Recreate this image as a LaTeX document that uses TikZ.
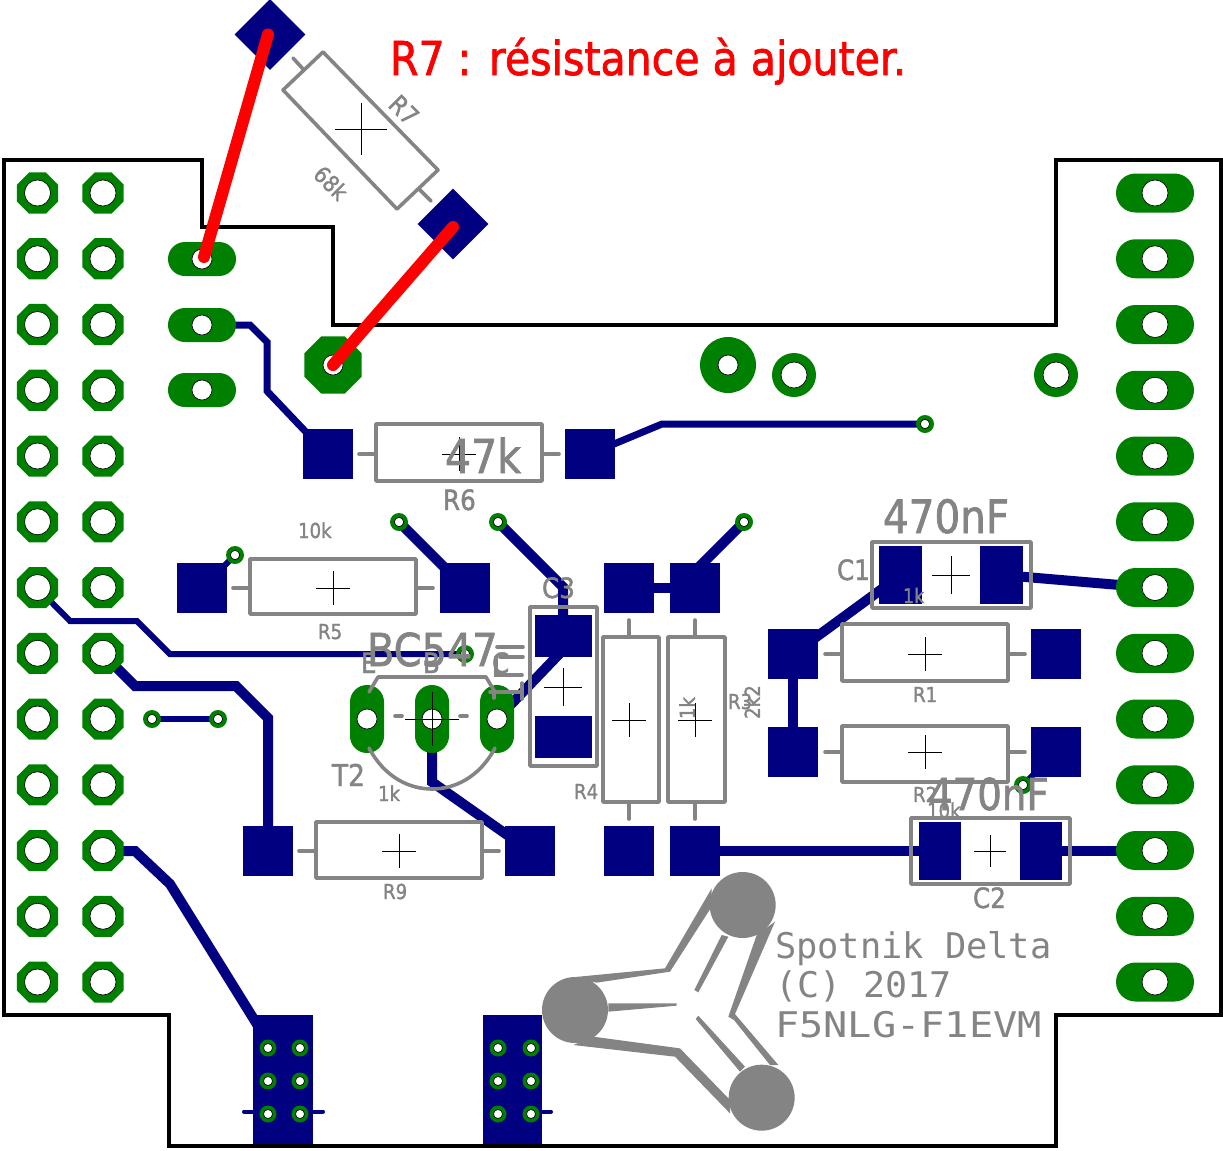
\documentclass[tikz,border=0pt]{standalone}
\usepackage{fontspec}
\setmainfont[FakeStretch=0.88,FakeBold=1.5]{DejaVu Sans}
\newfontfamily\monof{DejaVu Sans Mono}
\usetikzlibrary{shapes.geometric}
\definecolor{cu}{HTML}{000080}
\definecolor{padg}{HTML}{008000}
\definecolor{silk}{HTML}{848484}
\newcommand\fsz[1]{\fontsize{#1}{#1}\selectfont}
\tikzset{
 trace/.style={draw=cu,line width=#1,line join=miter,line cap=round},
 trace/.default=7.5pt,
 sqpad/.style={fill=cu,minimum size=37.5pt,inner sep=0,outer sep=0},
 diapad/.style={fill=cu,minimum size=37.5pt,inner sep=0,outer sep=0,rotate=45},
 oct/.style={regular polygon,regular polygon sides=8,fill=padg,minimum size=#1,inner sep=0,outer sep=0},
 rnd/.style={circle,fill=padg,minimum size=#1,inner sep=0,outer sep=0},
 hole/.style={circle,fill=white,draw=black,line width=.5pt,minimum size=#1,inner sep=0,outer sep=0},
 oblL/.style={fill=padg,minimum width=51pt,minimum height=25.5pt,rounded corners=12.7pt,inner sep=0,outer sep=0},
 oblR/.style={fill=padg,minimum width=58.5pt,minimum height=29.25pt,rounded corners=14.6pt,inner sep=0,outer sep=0},
 oblV/.style={fill=padg,minimum width=25.5pt,minimum height=51pt,rounded corners=12.7pt,inner sep=0,outer sep=0},
 silkline/.style={draw=silk,line width=2.7pt,line join=round},
 lead/.style={draw=silk,line width=2.7pt,line cap=round},
 crossl/.style={draw=black,line width=.6pt},
 txt/.style={text=silk,inner sep=0,outer sep=0,anchor=base west},
 txtc/.style={text=silk,inner sep=0,outer sep=0,anchor=center},
 logo/.style={fill=silk,draw=none}
}
\newcommand\crossat[3]{\draw[crossl] (#1-#3,#2) -- (#1+#3,#2) (#1,#2-#3) -- (#1,#2+#3);}
\newcommand\lab[4]{\node[txt,font=\fsz{#4}] at (#1,#2) {#3};}
\begin{document}
\begin{tikzpicture}[x=0.75pt,y=-0.75pt]
\useasboundingbox (0,0) rectangle (1223,1150);
% named connection points
\coordinate (R6a) at (328,454); \coordinate (R6b) at (590,454);
\coordinate (R5a) at (202,588); \coordinate (R5b) at (465,588);
\coordinate (R4a) at (629,588); \coordinate (R3a) at (695,588);
\coordinate (R4b) at (629,851); \coordinate (R3b) at (695,851);
\coordinate (R1a) at (793,654); \coordinate (R1b) at (1056,654);
\coordinate (R2a) at (793,752); \coordinate (R2b) at (1056,752);
\coordinate (R9a) at (268,851); \coordinate (R9b) at (530,851);
\coordinate (O2) at (202,325);
\coordinate (V1) at (925,424); \coordinate (V2) at (235,555);
\coordinate (V3) at (399,522); \coordinate (V4) at (498,522);
\coordinate (V5) at (744,522); \coordinate (V6) at (152,719);
\coordinate (V7) at (218,719); \coordinate (V8) at (1023,785);
\coordinate (V9) at (465,654);
\coordinate (L7) at (37.5,588); \coordinate (L8) at (103,654);
\coordinate (L11) at (103,851);
\coordinate (RR7) at (1155,588); \coordinate (RR11) at (1155,851);
\coordinate (TB) at (432,719); \coordinate (TC) at (497,719);
% copper
\draw[trace=5.25pt] (O2) -- (250,325) -- (267,342) -- (267,391) -- (305,431) -- (R6a);
\draw[trace=5.25pt] (R6b) -- (662,424) -- (V1);
\draw[trace=4.5pt] (L7) -- (70,621) -- (137,621) -- (170,654) -- (V9);
\draw[trace] (L8) -- (135,686) -- (236,686) -- (268,718) -- (R9a);
\draw[trace=4.5pt] (V6) -- (V7);
\draw[trace] (L11) -- (135,851) -- (170,884) -- (268,1042);
\draw[trace] (TB) -- (432,782) -- (R9b);
\draw[trace=4.5pt] (V2) -- (R5a);
\draw[trace] (V3) -- (R5b);
\draw[trace] (V4) -- (563,587) -- (563,650) -- (TC);
\draw[trace] (R4a) -- (R3a);
\draw[trace] (V5) -- (695,571) -- (R3a);
\draw[trace] (R1a) -- (R2a);
\draw[trace] (R1a) -- (901,575);
\draw[trace] (1002,575) -- (RR7);
\draw[trace] (R3b) -- (940,851);
\draw[trace] (1040,851) -- (RR11);
\draw[trace=4.5pt] (V8) -- (R2b);
\draw[trace=3pt] (244,1111.5) -- (323,1111.5);
\draw[trace=3pt] (542,1111.5) -- (551,1111.5);
% square pads
\foreach \p in {R6a,R6b,R5a,R5b,R4a,R3a,R4b,R3b,R1a,R1b,R2a,R2b,R9a,R9b}
  \node[sqpad] (pad\p) at (\p) {};
\node[diapad] (dia1) at (270,34.5) {};
\node[diapad] (dia2) at (453,224) {};
% SMD pads
\fill[cu] (879,546) rectangle (922,604);
\fill[cu] (980,546) rectangle (1023,604);
\fill[cu] (919,822) rectangle (961,880);
\fill[cu] (1020,822) rectangle (1062,880);
\fill[cu] (535,615) rectangle (592,657);
\fill[cu] (535,716) rectangle (592,758);
\fill[cu] (253,1015) rectangle (313,1147);
\fill[cu] (483,1015) rectangle (542,1147);
% board outline
\draw[black,line width=3pt,line join=miter] (4,160) -- (202,160) -- (202,227) -- (333,227) -- (333,325) -- (1056,325) -- (1056,160) -- (1221,160) -- (1221,1015) -- (1056,1015) -- (1056,1146) -- (169,1146) -- (169,1015) -- (4,1015) -- cycle;
% connector rows
\foreach \i in {0,...,12}{
  \pgfmathsetmacro\yy{193+65.75*\i}
  \node[oct=33.3pt] (la\i) at (37.5,\yy) {};
  \node[oct=33.3pt] (lb\i) at (103,\yy) {};
  \node[oblR] (rr\i) at (1155,\yy) {};
  \node[hole=19.5pt] at (37.5,\yy) {};
  \node[hole=19.5pt] at (103,\yy) {};
  \node[hole=19.5pt] at (1155,\yy) {};
}
\foreach \yy in {259,325,390}{
  \node[oblL] at (202,\yy) {};
  \node[hole=15pt] at (202,\yy) {};
}
\node[oct=46.3pt] (big) at (333,365) {}; \node[hole=15pt] at (333,365) {};
\node[rnd=42pt] at (728,365) {}; \node[hole=15pt] at (728,365) {};
\node[rnd=33pt] at (794,375) {}; \node[hole=19.5pt] at (794,375) {};
\node[rnd=33pt] at (1056,375) {}; \node[hole=19.5pt] at (1056,375) {};
\foreach \p in {V1,V2,V3,V4,V5,V6,V7,V8,V9}{
  \node[rnd=13.5pt] at (\p) {};
  \node[hole=7pt] at (\p) {};
}
\foreach \xx in {268,300,498,531} \foreach \yy in {1048,1081,1114}{
  \node[rnd=12.75pt] at (\xx,\yy) {};
  \node[hole=6.75pt] at (\xx,\yy) {};
}
\foreach \xx in {367,432,497}{
  \node[oblV] at (\xx,719) {};
  \node[hole=15pt] at (\xx,719) {};
}
% resistor bodies
\draw[silkline] (376,424) rectangle (542,481);
\draw[lead] (359,454) -- (376,454) (542,454) -- (559,454);
\draw[silkline] (250,559) rectangle (416,614);
\draw[lead] (233,588) -- (250,588) (416,588) -- (433,588);
\draw[silkline] (316,822) rectangle (482,878);
\draw[lead] (299,851) -- (316,851) (482,851) -- (499,851);
\draw[silkline] (842,624) rectangle (1008,681);
\draw[lead] (825,654) -- (842,654) (1008,654) -- (1025,654);
\draw[silkline] (842,726) rectangle (1008,782);
\draw[lead] (825,752) -- (842,752) (1008,752) -- (1025,752);
\draw[silkline] (603,637) rectangle (659,802);
\draw[lead] (629,620) -- (629,637) (629,802) -- (629,819);
\draw[silkline] (668,637) rectangle (725,802);
\draw[lead] (695,620) -- (695,637) (695,802) -- (695,819);
\draw[silkline] (323,52) -- (438,170) -- (397,209) -- (283,90) -- cycle;
\draw[lead] (293,58) -- (303,69) (419,189) -- (431,201);
% capacitors
\draw[silkline] (872,542) rectangle (1031,608);
\draw[silkline] (911,818) rectangle (1070,884);
\draw[silkline] (530,607) rectangle (597,766);
% capacitor-like silk by T2
\draw[lead] (497,647) -- (523,647) (500,657) -- (523,657) (496,657) -- (496,675) -- (522,675);
\draw[lead] (490,692) -- (522,692) (522,683) -- (522,699) (494,692) -- (494,698);
% T2 outline
\draw[silkline,line cap=round] (369,692) -- (378,677) -- (486,677) -- (495,692);
\draw[silkline,line cap=round] (369,748) .. controls (385,778) and (410,789) .. (432,789) .. controls (454,789) and (479,778) .. (495,748);
\draw[lead] (395,716) -- (402,716) (460,716) -- (467,716);
% crosses
\crossat{459}{454}{17}
\crossat{333}{588}{17}
\crossat{399}{851}{17}
\crossat{925}{654}{17}
\crossat{925}{752}{17}
\crossat{629}{720}{17}
\crossat{695}{720}{17}
\crossat{361}{129}{26}
\crossat{951}{575}{19}
\crossat{990}{851}{16}
\crossat{563}{687}{19}
\crossat{432}{719}{27}
% logo
\begin{scope}[shift={(530,860)},x=0.25pt,y=-0.25pt]
\fill[logo] (638,135) circle (99);
\fill[logo] (135,450) circle (99);
\fill[logo] (695,713) circle (99);
\fill[logo] (125,352) -- (405,325) -- (545,85) -- (545,140) -- (420,335) -- (200,368) -- cycle;
\fill[logo] (735,185) -- (615,462) -- (745,615) -- (720,615) -- (612,480) -- (595,470) -- (680,225) -- cycle;
\fill[logo] (600,760) -- (435,590) -- (130,555) -- (190,530) -- (450,565) -- (600,720) -- cycle;
\fill[logo] (235,430) -- (440,430) -- (440,437) -- (235,455) -- cycle;
\fill[logo] (575,225) -- (595,230) -- (505,397) -- (493,390) -- cycle;
\fill[logo] (505,467) -- (645,620) -- (630,635) -- (497,477) -- cycle;
\end{scope}
\node[txt,font=\monof\fsz{26.5pt}] (l1) at (775,958) {Spotnik Delta};
\node[txt,font=\monof\fsz{26.5pt}] (l2) at (775,997) {\scalebox{1.04}[1]{(C) 2017}};
\node[txt,font=\monof\fsz{26.5pt}] (l3) at (775,1037) {\scalebox{1.14}[1]{F5NLG-F1EVM}};
% labels
\node[txt,text=red,font=\fsz{35pt}] (title) at (390,75) {R7 : résistance à ajouter.};
\lab{445}{473}{47k}{35pt}
\lab{443}{510}{R6}{21pt}
\lab{883}{533}{470nF}{34.5pt}
\lab{837}{580}{C1}{21pt}
\lab{903}{603}{1k}{15pt}
\lab{913}{702}{R1}{15.5pt}
\lab{913}{802}{R2}{15.5pt}
\lab{927}{818}{10k}{15.5pt}
\lab{928}{810}{470nF}{33pt}
\lab{973}{908}{C2}{21pt}
\lab{542}{598}{C3}{21pt}
\lab{332}{786}{T2}{22.5pt}
\lab{574}{799}{R4}{15.5pt}
\lab{378}{801}{1k}{15.5pt}
\lab{383}{899}{R9}{15.5pt}
\lab{318}{639}{R5}{15.5pt}
\lab{298}{538}{10k}{15.5pt}
\lab{361}{673}{E}{21pt}
\lab{423}{673}{B}{21pt}
\lab{492}{673}{C}{21pt}
\lab{367}{666}{BC547}{34pt}
\lab{728}{709}{R3}{15.5pt}
\node[txtc,font=\fsz{15.5pt},rotate=90] at (752,702) {2k2};
\node[txtc,font=\fsz{15.5pt},rotate=90] at (687,708) {1k};
\node[txtc,font=\fsz{19pt},rotate=-45] at (404,110) {R7};
\node[txtc,font=\fsz{17pt},rotate=-45] at (331,183) {68k};
% red wires
\draw[red,line width=9pt,line cap=round] (dia1.center) ++(-2,0) -- (204,257);
\draw[red,line width=9pt,line cap=round] (dia2.center) ++(0,3) -- (big.center);
\end{tikzpicture}
\end{document}
